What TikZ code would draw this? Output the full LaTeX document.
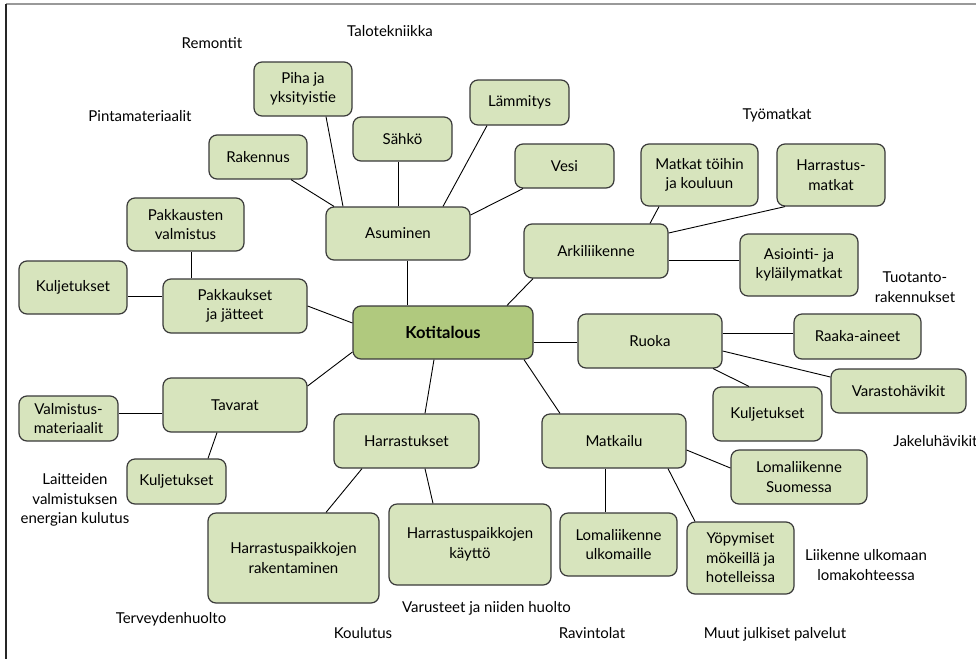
\documentclass[tikz,border=0pt]{standalone}
\usepackage{fontspec}
\setmainfont{Lato}
\definecolor{boxfill}{HTML}{D7E4BD}
\definecolor{rootfill}{HTML}{B0C97E}
\definecolor{boxline}{HTML}{3A3A3A}
\begin{document}
\begin{tikzpicture}[x=1pt,y=-1pt,
  box/.style={draw=boxline, line width=1.2pt, fill=boxfill, rounded corners=8pt, align=center, inner sep=0pt, font=\fontsize{15}{19.5}\selectfont},
  root/.style={box, fill=rootfill, font=\fontsize{16.5}{20}\selectfont\bfseries},
  free/.style={align=center, inner sep=0pt, font=\fontsize{15}{19.5}\selectfont},
  conn/.style={draw=black, line width=0.9pt}]
\useasboundingbox (0,0) rectangle (976,659);
\fill[white] (0,0) rectangle (976,659);
\draw[gray!80, line width=1.5pt] (6,4) -- (976,4);
\draw[black!85, line width=1.5pt] (6,4) -- (6,659);

% boxes
\node[box, minimum width=98pt,  minimum height=54pt] (piha) at (303,89) {Piha ja\\yksityistie};
\node[box, minimum width=98pt,  minimum height=44pt] (rak) at (258,157) {Rakennus};
\node[box, minimum width=99pt,  minimum height=44pt] (sahko) at (402.5,139) {Sähkö};
\node[box, minimum width=99pt,  minimum height=45pt] (lamm) at (519.5,102.5) {Lämmitys};
\node[box, minimum width=99pt,  minimum height=44pt] (vesi) at (564.5,166) {Vesi};
\node[box, minimum width=144pt, minimum height=53pt] (asum) at (398,233.5) {Asuminen};
\node[box, minimum width=117pt, minimum height=53pt] (pakv) at (185.5,224.5) {Pakkausten\\valmistus};
\node[box, minimum width=108pt, minimum height=53pt] (kulja) at (73,287.5) {Kuljetukset};
\node[box, minimum width=144pt, minimum height=54pt] (pakk) at (235,306) {Pakkaukset\\ja jätteet};
\node[root, minimum width=180pt, minimum height=53pt] (kot) at (443,332.5) {Kotitalous};
\node[box, minimum width=117pt, minimum height=62pt] (matk) at (699.5,175) {Matkat töihin\\ja kouluun};
\node[box, minimum width=108pt, minimum height=62pt] (hmat) at (831,175) {Harrastus-\\matkat};
\node[box, minimum width=144pt, minimum height=54pt] (arki) at (596,251) {Arkiliikenne};
\node[box, minimum width=118pt, minimum height=62pt] (asio) at (799,265) {Asiointi- ja\\kyläilymatkat};
\node[box, minimum width=144pt, minimum height=54pt] (ruoka) at (650,341) {Ruoka};
\node[box, minimum width=127pt, minimum height=45pt] (raaka) at (857.5,336.5) {Raaka-aineet};
\node[box, minimum width=135pt, minimum height=44pt] (vara) at (898.5,391) {Varastohävikit};
\node[box, minimum width=109pt, minimum height=54pt] (kuljc) at (767.5,414) {Kuljetukset};
\node[box, minimum width=144pt, minimum height=54pt] (matkailu) at (614,441) {Matkailu};
\node[box, minimum width=136pt, minimum height=54pt] (lomas) at (799,477) {Lomaliikenne\\Suomessa};
\node[box, minimum width=117pt, minimum height=63pt] (lomau) at (618.5,544.5) {Lomaliikenne\\ulkomaille};
\node[box, minimum width=107pt, minimum height=72pt] (yop) at (740.5,558) {Yöpymiset\\mökeillä ja\\hotelleissa};
\node[box, minimum width=144pt, minimum height=54pt] (tav) at (235,405) {Tavarat};
\node[box, minimum width=99pt,  minimum height=45pt] (valm) at (68.5,418.5) {Valmistus-\\materiaalit};
\node[box, minimum width=99pt,  minimum height=45pt] (kuljb) at (176.5,481.5) {Kuljetukset};
\node[box, minimum width=145pt, minimum height=54pt] (harr) at (406.5,441) {Harrastukset};
\node[box, minimum width=171pt, minimum height=90pt] (hrak) at (293.5,558) {Harrastuspaikkojen\\rakentaminen};
\node[box, minimum width=162pt, minimum height=81pt] (hkay) at (470,544.5) {Harrastuspaikkojen\\käyttö};

% free texts
\node[free] (t1) at (212,43) {Remontit};
\node[free] (t2) at (390,31) {Talotekniikka};
\node[free] (t3) at (140,116) {Pintamateriaalit};
\node[free] (t4) at (777,115) {Työmatkat};
\node[free] (t5) at (915,287) {Tuotanto-\\rakennukset};
\node[free] (t6) at (935.5,441) {Jakeluhävikit};
\node[free] (t7) at (75,500) {Laitteiden\\valmistuksen\\energian kulutus};
\node[free] (t8) at (171,619) {Terveydenhuolto};
\node[free] (t9) at (363,633) {Koulutus};
\node[free] (t10) at (486.5,608) {Varusteet ja niiden huolto};
\node[free] (t11) at (592,633) {Ravintolat};
\node[free] (t12) at (775,634) {Muut julkiset palvelut};
\node[free] (t13) at (866,565) {Liikenne ulkomaan\\lomakohteessa};

% connectors
\draw[conn] ([xshift=-36pt]kot.north) -- ([xshift=9pt]asum.south);
\draw[conn] ([yshift=9.5pt]kot.west) -- (pakk.east);
\draw[conn] ([yshift=-19.5pt]kot.west) -- ([yshift=19pt]tav.east);
\draw[conn] ([xshift=-9pt]kot.south) -- ([xshift=18.5pt]harr.north);
\draw[conn] ([xshift=81pt]kot.south) -- ([xshift=-54pt]matkailu.north);
\draw[conn] ([yshift=-9.5pt]kot.east) -- ([yshift=-1pt]ruoka.west);
\draw[conn] ([xshift=64pt]kot.north) -- ([xshift=-63pt]arki.south);
\draw[conn] ([xshift=-64pt]asum.north) -- ([xshift=33pt]rak.south);
\draw[conn] ([xshift=-55pt]asum.north) -- ([xshift=23pt]piha.south);
\draw[conn] (asum.north) -- ([xshift=-4.5pt]sahko.south);
\draw[conn] ([xshift=45pt]asum.north) -- ([xshift=-32.5pt]lamm.south);
\draw[conn] ([yshift=18.5pt]asum.east) -- ([xshift=-41.5pt]vesi.south);
\draw[conn] ([xshift=-44pt]pakk.north) -- ([xshift=5.5pt]pakv.south);
\draw[conn] ([yshift=10pt]pakk.west) -- ([yshift=-8.5pt]kulja.east);
\draw[conn] ([xshift=54pt]arki.north) -- ([xshift=-40.5pt]matk.south);
\draw[conn] ([yshift=18pt]arki.east) -- ([xshift=-46pt]hmat.south);
\draw[conn] ([yshift=-9pt]arki.east) -- ([yshift=5pt]asio.west);
\draw[conn] ([yshift=8pt]ruoka.east) -- ([yshift=3.5pt]raaka.west);
\draw[conn] ([yshift=-10pt]ruoka.east) -- ([yshift=14pt]vara.west);
\draw[conn] ([xshift=63pt]ruoka.south) -- ([xshift=-18.5pt]kuljc.north);
\draw[conn] ([yshift=-9pt]matkailu.east) -- ([yshift=9pt]lomas.west);
\draw[conn] ([xshift=-9pt]matkailu.south) -- ([xshift=-13.5pt]lomau.north);
\draw[conn] ([xshift=54pt]matkailu.south) -- ([xshift=-45.5pt]yop.north);
\draw[conn] ([yshift=-8pt]tav.west) -- ([yshift=5.5pt]valm.east);
\draw[conn] ([xshift=-18pt]tav.south) -- ([xshift=31.5pt]kuljb.north);
\draw[conn] ([xshift=-44.5pt]harr.south) -- ([xshift=32.5pt]hrak.north);
\draw[conn] ([xshift=18.5pt]harr.south) -- ([xshift=-37pt]hkay.north);
\end{tikzpicture}
\end{document}
